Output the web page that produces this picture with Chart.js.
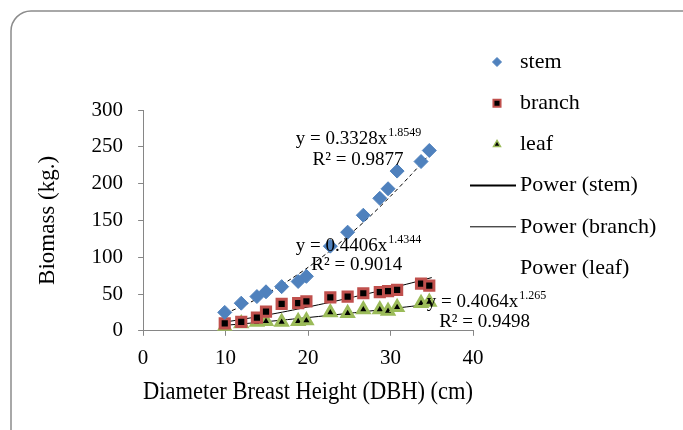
<!DOCTYPE html>
<html>
<head>
<meta charset="utf-8">
<script src="https://cdn.jsdelivr.net/npm/chart.js@4/dist/chart.umd.min.js"></script>
<style>
  body { margin: 0; background: #fff; }
  #wrap { width: 683px; height: 430px; }
</style>
</head>
<body>
<div id="wrap"><canvas id="biomassChart"></canvas></div>
<script>
const dbh = [9.9, 11.9, 13.8, 14.9, 16.8, 18.8, 19.8, 22.7, 24.8, 26.7, 28.7, 29.7, 30.8, 33.7, 34.7];

// biomass (kg.) per component
const stem = [25, 37.5, 46.5, 53, 60, 67, 74, 115, 134, 157, 180, 193, 217, 230, 245];
const branch = [10, 12, 18, 26, 36.5, 37.5, 40, 45.5, 46.5, 51, 52.5, 54, 55.5, 64, 61.5];
const leaf = [5.5, 10, 12, 13, 12, 13, 14, 25, 24, 29, 29, 27, 32, 37.5, 39];

// power trendlines
const trendX = [10, 12.5, 15, 17.5, 20, 22.5, 25, 27.5, 30, 32.5, 35];
const stemTrend = [23.8, 36.0, 50.5, 67.3, 86.2, 107.2, 130.4, 155.4, 182.9, 212.1, 243.2];
const branchTrend = [12.0, 16.5, 21.4, 26.7, 32.4, 38.3, 44.6, 51.1, 57.9, 64.9, 72.3];
const leafTrend = [7.5, 9.9, 12.5, 15.2, 18.0, 20.9, 23.8, 26.9, 30.0, 33.2, 36.5];

// equations written on the chart
const equations = [
    { base: "y = 0.3328x", exp: "1.8549", r2: "R² = 0.9877", at: [18.5, 254], r2At: [20.55, 225] },
    { base: "y = 0.4406x", exp: "1.4344", r2: "R² = 0.9014", at: [18.5, 109], r2At: [20.4, 83] },
    { base: "y = 0.4064x", exp: "1.265", r2: "R² = 0.9498", at: [34.4, 32], r2At: [35.9, 5] }
];

const legendNames = ["stem", "branch", "leaf", "Power (stem)", "Power (branch)", "Power (leaf)"];

const blue = "#4f81bd";
const red = "#c0504d";
const green = "#9bbb59";
const axisGrey = "#868686";
const serif = "'Liberation Serif', 'Times New Roman', serif";

function pairs(xs, ys) {
    return xs.map((x, i) => ({ x: x, y: ys[i] }));
}

// ---------------- FRAME + LABELS ----------------

const framePlugin = {
    id: "frame",
    beforeDraw(chart) {
        const ctx = chart.ctx;
        ctx.save();
        ctx.strokeStyle = "#8c8c8c";
        ctx.lineWidth = 1.5;
        ctx.beginPath();
        ctx.roundRect(11, 11, 700, 440, 20);
        ctx.stroke();
        ctx.restore();
    },
    afterDraw(chart) {
        const ctx = chart.ctx;
        const xs = chart.scales.x;
        const ys = chart.scales.y;
        ctx.save();
        ctx.fillStyle = "#000";
        ctx.textBaseline = "alphabetic";
        ctx.textAlign = "left";

        equations.forEach(eq => {
            const px = xs.getPixelForValue(eq.at[0]);
            const py = ys.getPixelForValue(eq.at[1]);
            ctx.font = "19px " + serif;
            ctx.fillText(eq.base, px, py);
            const w = ctx.measureText(eq.base).width;
            ctx.font = "12px " + serif;
            ctx.fillText(eq.exp, px + w + 1, py - 8);
            ctx.font = "19px " + serif;
            ctx.fillText(eq.r2, xs.getPixelForValue(eq.r2At[0]), ys.getPixelForValue(eq.r2At[1]));
        });

        // legend on the right
        const textX = 520;
        const markX = 497;
        ctx.font = "22px " + serif;
        ctx.textBaseline = "middle";
        legendNames.forEach((name, i) => {
            const y = 62 + i * 41.2;
            ctx.fillStyle = "#000";
            ctx.fillText(name, textX, y);
            ctx.save();
            if (i === 0) {
                ctx.fillStyle = blue; ctx.strokeStyle = blue;
                Chart.helpers.drawPoint(ctx, { pointStyle: "rectRot", radius: 4.5, borderWidth: 1 }, markX, y);
            } else if (i === 1) {
                ctx.fillStyle = "#000"; ctx.strokeStyle = red; ctx.lineWidth = 2;
                Chart.helpers.drawPoint(ctx, { pointStyle: "rect", radius: 5, borderWidth: 2 }, markX, y);
            } else if (i === 2) {
                ctx.fillStyle = "#000"; ctx.strokeStyle = green; ctx.lineWidth = 1.5;
                Chart.helpers.drawPoint(ctx, { pointStyle: "triangle", radius: 4, borderWidth: 1.5 }, markX, y);
            } else if (i === 3 || i === 4) {
                ctx.strokeStyle = "#000";
                ctx.lineWidth = i === 3 ? 2 : 1;
                ctx.beginPath();
                ctx.moveTo(470, y);
                ctx.lineTo(516, y);
                ctx.stroke();
            }
            ctx.restore();
        });
        ctx.restore();
    }
};

// ---------------- SCATTER CHART ----------------

const canvas = document.getElementById("biomassChart");

new Chart(canvas, {
    type: "scatter",
    data: {
        datasets: [
            {
                label: "stem",
                data: pairs(dbh, stem),
                pointStyle: "rectRot",
                pointRadius: 7,
                backgroundColor: blue,
                borderColor: blue,
                borderWidth: 1
            },
            {
                label: "branch",
                data: pairs(dbh, branch),
                pointStyle: "rect",
                pointRadius: 6.5,
                backgroundColor: "#000",
                borderColor: red,
                borderWidth: 3
            },
            {
                label: "leaf",
                data: pairs(dbh, leaf),
                pointStyle: "triangle",
                pointRadius: 6.5,
                backgroundColor: "#000",
                borderColor: green,
                borderWidth: 3
            },
            {
                type: "line",
                label: "Power (stem)",
                data: pairs(trendX, stemTrend),
                borderColor: "#000",
                borderWidth: 1,
                borderDash: [4, 3],
                pointRadius: 0,
                tension: 0.3,
                fill: false
            },
            {
                type: "line",
                label: "Power (branch)",
                data: pairs(trendX, branchTrend),
                borderColor: "#000",
                borderWidth: 1,
                pointRadius: 0,
                tension: 0.3,
                fill: false
            },
            {
                type: "line",
                label: "Power (leaf)",
                data: pairs(trendX, leafTrend),
                borderColor: "#000",
                borderWidth: 1,
                pointRadius: 0,
                tension: 0.3,
                fill: false
            }
        ]
    },
    options: {
        responsive: true,
        maintainAspectRatio: false,
        animation: false,
        layout: {
            padding: { left: 24, top: 110, right: 210, bottom: 23 }
        },
        plugins: {
            legend: { display: false },
            tooltip: { enabled: false }
        },
        scales: {
            x: {
                type: "linear",
                min: 0,
                max: 40,
                ticks: {
                    stepSize: 10,
                    padding: 10,
                    color: "#000",
                    font: { family: serif, size: 21 }
                },
                grid: {
                    drawOnChartArea: false,
                    tickLength: 5,
                    color: axisGrey
                },
                border: { color: axisGrey, width: 1 },
                title: {
                    display: true,
                    text: "Diameter Breast Height (DBH) (cm)",
                    color: "#000",
                    font: { family: serif, size: 25 },
                    padding: { top: -4, bottom: 0 }
                }
            },
            y: {
                min: 0,
                max: 300,
                ticks: {
                    stepSize: 50,
                    padding: 15,
                    color: "#000",
                    font: { family: serif, size: 21 }
                },
                grid: {
                    drawOnChartArea: false,
                    tickLength: 5,
                    color: axisGrey
                },
                border: { color: axisGrey, width: 1 },
                title: {
                    display: true,
                    text: "Biomass (kg.)",
                    color: "#000",
                    font: { family: serif, size: 23 },
                    padding: { top: 10, bottom: 15 }
                }
            }
        }
    },
    plugins: [framePlugin]
});
</script>
</body>
</html>
